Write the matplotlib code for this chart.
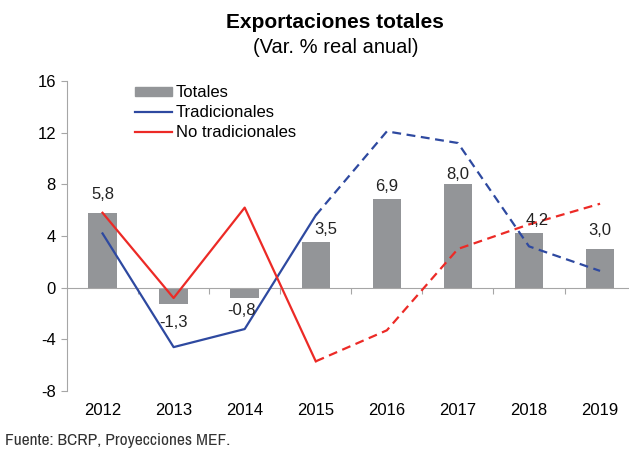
import matplotlib
matplotlib.use("Agg")
import matplotlib.pyplot as plt
from matplotlib.lines import Line2D
from matplotlib.patches import Patch
from matplotlib import font_manager

years = ["2012", "2013", "2014", "2015", "2016", "2017", "2018", "2019"]
totales = [5.8, -1.3, -0.8, 3.5, 6.9, 8.0, 4.2, 3.0]
tradicionales = [4.2, -4.6, -3.2, 5.6, 12.1, 11.2, 3.2, 1.3]
no_tradicionales = [5.8, -0.8, 6.2, -5.7, -3.3, 3.0, 4.9, 6.5]
bar_labels = ["5,8", "-1,3", "-0,8", "3,5", "6,9", "8,0", "4,2", "3,0"]
first_projection = 3  # lines are dashed from 2015 on

# small nudges (points) so the value labels clear the lines
label_dx = [0, 0, -2, 7, 0, 0, 6, 0]
label_dy = [13, -13, -9, 9, 9, 7, 9, 13]

plt.rcParams["font.family"] = ["Liberation Sans", "DejaVu Sans"]
plt.rcParams["axes.unicode_minus"] = False
narrow = [f.name for f in font_manager.fontManager.ttflist if "Narrow" in f.name]
source_font = [narrow[0], "Liberation Sans"] if narrow else ["Liberation Sans"]

gray = "#939598"
blue = "#2e49a0"
red = "#ec2a26"
axis_gray = "#a6a6a6"
fs = 12

fig = plt.figure(figsize=(6.29, 4.5), dpi=100)
ax = fig.add_axes([0.1065, 0.131, 0.904, 0.689])

x = list(range(len(years)))
ax.bar(x, totales, width=0.4, color=gray, zorder=2)

for vals, col in ((tradicionales, blue), (no_tradicionales, red)):
    k = first_projection
    ax.plot(x[:k + 1], vals[:k + 1], color=col, lw=1.6, zorder=3)
    ax.plot(x[k:], vals[k:], color=col, lw=1.6, ls=(0, (4, 2.5)), zorder=3)

for xi, v, txt, dx, dy in zip(x, totales, bar_labels, label_dx, label_dy):
    ax.annotate(txt, (xi, v), xytext=(dx, dy), textcoords="offset points",
                ha="center", va="center", fontsize=fs, color="#222222", zorder=4)

ax.set_xlim(-0.5, len(years) - 0.5)
ax.set_ylim(-8, 16)
ax.set_yticks(range(-8, 17, 4))
ax.tick_params(axis="y", length=4, color=axis_gray, labelsize=fs, pad=4)

# category axis sits on zero, ticks between categories
ax.spines["bottom"].set_position(("data", 0))
ax.spines["bottom"].set_color(axis_gray)
ax.spines["left"].set_color(axis_gray)
ax.spines["top"].set_visible(False)
ax.spines["right"].set_visible(False)
ax.set_xticks([i + 0.5 for i in x[:-1]])
ax.set_xticklabels([])
ax.tick_params(axis="x", length=4, color=axis_gray, direction="out")
for xi, yr in zip(x, years):
    ax.text(xi, -9.5, yr, ha="center", va="center", fontsize=fs, clip_on=False)

handles = [Patch(color=gray), Line2D([], [], color=blue, lw=1.6),
           Line2D([], [], color=red, lw=1.6)]
ax.legend(handles, ["Totales", "Tradicionales", "No tradicionales"],
          loc="upper left", bbox_to_anchor=(0.108, 1.008), frameon=False,
          fontsize=fs, handlelength=2.2, handleheight=0.5, handletextpad=0.25,
          labelspacing=0.3, borderaxespad=0)

fig.text(0.533, 0.951, "Exportaciones totales", ha="center", va="center",
         fontsize=15, fontweight="bold")
fig.text(0.533, 0.894, "(Var. % real anual)", ha="center", va="center", fontsize=14.5)
fig.text(0.008, 0.022, "Fuente: BCRP, Proyecciones MEF.", ha="left", va="center",
         fontsize=12.5, family=source_font, color="#333333")

fig.savefig("out.png", dpi=100)
